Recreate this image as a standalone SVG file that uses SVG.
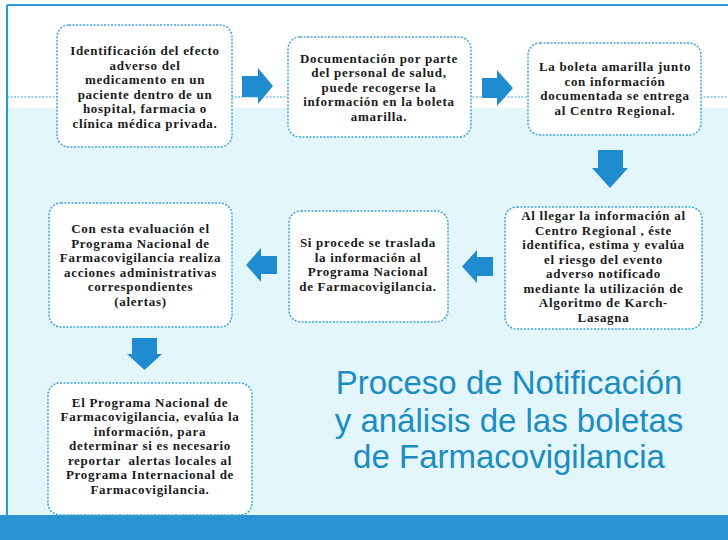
<svg xmlns="http://www.w3.org/2000/svg" width="728" height="540" viewBox="0 0 728 540">
<style>
.box{fill:#ffffff;stroke:#3ea2dc;stroke-width:1.5;stroke-dasharray:2 1.5}
.t{font-family:"Liberation Serif","DejaVu Serif",serif;font-weight:bold;font-size:13px;letter-spacing:0.7px;fill:#1a1a1a;text-anchor:middle}
.arr{fill:#1f8ccf}
.title{font-family:"Liberation Sans",Arial,sans-serif;font-size:33px;fill:#1c8cc2;text-anchor:middle}
</style>
<rect x="0" y="0" width="728" height="540" fill="#ffffff"/>
<rect x="7" y="108" width="721" height="407" fill="#e3f6fb"/>
<rect x="0" y="515" width="728" height="25" fill="#2a94d2"/>
<line x1="7" y1="5" x2="728" y2="5" stroke="#2a9ad6" stroke-width="2"/>
<line x1="7" y1="5" x2="7" y2="515" stroke="#2a9ad6" stroke-width="2"/>
<line x1="7" y1="97" x2="728" y2="97" stroke="#3ea2dc" stroke-width="1.2" stroke-dasharray="2 1.5"/>
<g id="connectors">
<polygon class="arr" points="242,76 258,76 258,68 273,86 258,104 258,97 242,97"/>
<polygon class="arr" points="482,78 497,78 497,70 513,88 497,106 497,98 482,98"/>
<polygon class="arr" points="598,150 623,150 623,168 628,168 610,188 592,168 598,168"/>
<polygon class="arr" points="493,257 477,257 477,250 462,266.5 477,283 477,276 493,276"/>
<polygon class="arr" points="277,256 261,256 261,248 246,265 261,282 261,274 277,274"/>
<polygon class="arr" points="132,338 157,338 157,354 162,354 144.5,370 127,354 132,354"/>
</g>
<g id="n1">
<rect class="box" x="57" y="25" width="175" height="122" rx="12"/>
<text class="t" x="145" y="55">Identificación del efecto</text>
<text class="t" x="145" y="69.5">adverso del</text>
<text class="t" x="145" y="84">medicamento en un</text>
<text class="t" x="145" y="98.5">paciente dentro de un</text>
<text class="t" x="145" y="113">hospital, farmacia o</text>
<text class="t" x="145" y="127.5">clínica médica privada.</text>
</g>
<g id="n2">
<rect class="box" x="288" y="37" width="183" height="100" rx="12"/>
<text class="t" x="379" y="62.5">Documentación por parte</text>
<text class="t" x="379" y="77">del personal de salud,</text>
<text class="t" x="379" y="91.5">puede recogerse la</text>
<text class="t" x="379" y="106">información en la boleta</text>
<text class="t" x="379" y="120.5">amarilla.</text>
</g>
<g id="n3">
<rect class="box" x="528" y="43" width="173" height="92" rx="12"/>
<text class="t" x="615" y="71">La boleta amarilla junto</text>
<text class="t" x="615" y="85.5">con información</text>
<text class="t" x="615" y="100">documentada se entrega</text>
<text class="t" x="615" y="114.5">al Centro Regional.</text>
</g>
<g id="n4">
<rect class="box" x="505" y="207" width="197" height="122" rx="12"/>
<text class="t" x="603.5" y="220">Al llegar la información al</text>
<text class="t" x="603.5" y="234.5">Centro Regional , éste</text>
<text class="t" x="603.5" y="249">identifica, estima y evalúa</text>
<text class="t" x="603.5" y="263.5">el riesgo del evento</text>
<text class="t" x="603.5" y="278">adverso notificado</text>
<text class="t" x="603.5" y="292.5">mediante la utilización de</text>
<text class="t" x="603.5" y="307">Algoritmo de Karch-</text>
<text class="t" x="603.5" y="321.5">Lasagna</text>
</g>
<g id="n5">
<rect class="box" x="289" y="211" width="159" height="111" rx="12"/>
<text class="t" x="368" y="247">Si procede se traslada</text>
<text class="t" x="368" y="261.5">la información al</text>
<text class="t" x="368" y="276">Programa Nacional</text>
<text class="t" x="368" y="290.5">de Farmacovigilancia.</text>
</g>
<g id="n6">
<rect class="box" x="49" y="203" width="183" height="124" rx="12"/>
<text class="t" x="140.5" y="233">Con esta evaluación el</text>
<text class="t" x="140.5" y="247.5">Programa Nacional de</text>
<text class="t" x="140.5" y="262">Farmacovigilancia realiza</text>
<text class="t" x="140.5" y="276.5">acciones administrativas</text>
<text class="t" x="140.5" y="291">correspondientes</text>
<text class="t" x="140.5" y="305.5">(alertas)</text>
</g>
<g id="n7">
<rect class="box" x="48" y="383" width="204" height="132" rx="12"/>
<text class="t" x="150" y="406.5">El Programa Nacional de</text>
<text class="t" x="150" y="421">Farmacovigilancia, evalúa la</text>
<text class="t" x="150" y="435.5">información, para</text>
<text class="t" x="150" y="450">determinar si es necesario</text>
<text class="t" x="150" y="464.5" xml:space="preserve">reportar  alertas locales al</text>
<text class="t" x="150" y="479">Programa Internacional de</text>
<text class="t" x="150" y="493.5">Farmacovigilancia.</text>
</g>
<g id="title">
<text class="title" x="509" y="394">Proceso de Notificación</text>
<text class="title" x="509" y="432">y análisis de las boletas</text>
<text class="title" x="509" y="468">de Farmacovigilancia</text>
</g>
</svg>
